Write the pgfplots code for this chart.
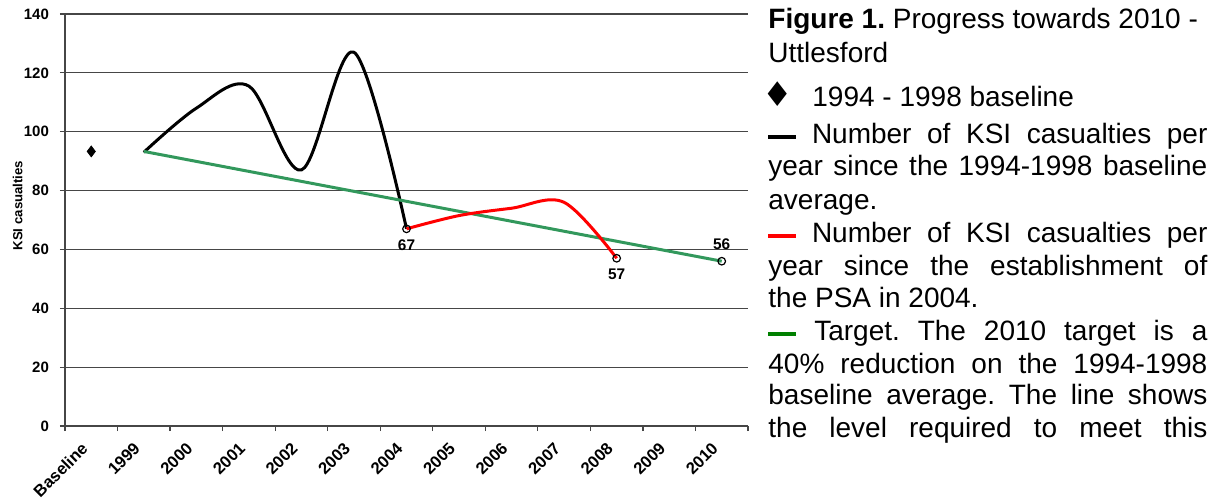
\documentclass[border=0pt]{standalone}
\usepackage{pgfplots}
\pgfplotsset{compat=1.18}
\usepackage{fontspec}
\setmainfont{Liberation Sans}
\newfontfamily\symfont{DejaVu Sans}
\definecolor{tgreen}{RGB}{50,152,92}
\definecolor{gridc}{RGB}{70,70,70}
\frenchspacing
\begin{document}
\begin{tikzpicture}
\path[use as bounding box] (0,0) rectangle (610pt,249.5pt);
\begin{axis}[
  at={(32.5pt,36.5pt)}, anchor=south west,
  scale only axis, width=341.5pt, height=206pt,
  xmin=-0.5, xmax=12.5, ymin=0, ymax=140,
  axis x line*=bottom, axis y line*=left,
  axis line style={-, gridc, line width=0.8pt},
  xtick={0,...,12},
  xticklabels={Baseline,1999,2000,2001,2002,2003,2004,2005,2006,2007,2008,2009,2010},
  major x tick style={draw=none},
  minor xtick={-0.5,0.5,...,12.5},
  minor x tick style={gridc, line width=0.6pt},
  minor tick length=2.5pt,
  ytick={0,20,...,140},
  ymajorgrids, major grid style={gridc, line width=0.6pt},
  major tick length=2.5pt,
  tick align=outside,
  y tick style={gridc, line width=0.6pt},
  /pgf/number format/assume math mode=true,
  ticklabel style={font=\fontsize{7.5}{9}\selectfont\bfseries},
  xticklabel style={font=\fontsize{8.3}{9}\selectfont\bfseries, xshift=-5.5pt, yshift=-5pt, rotate=45, anchor=north east, inner sep=0pt},
  yticklabel style={xshift=-2pt},
  ylabel={KSI casualties},
  ylabel style={font=\fontsize{6.6}{8}\selectfont\bfseries, at={(axis description cs:-0.052,0.535)}},
  clip=false,
]
% baseline
\addplot[only marks, mark=diamond*, mark size=2.7pt, mark options={fill=black, draw=black}] coordinates {(0,93.3)};
% black series
\addplot[black, line width=1.5pt, smooth, tension=0.55, mark=none] coordinates {
(1,93) (2,108) (3,115.5) (4,87) (5,127) (6,67)};
% target
\addplot[tgreen, line width=1.5pt, mark=o, mark indices={2}, mark size=1.9pt, mark options={draw=black, line width=0.6pt}] coordinates {
(1,93.3) (12,56)};
% red series
\addplot[red, line width=1.5pt, smooth, tension=0.55, mark=o, mark indices={1,5}, mark size=1.9pt, mark options={draw=black, line width=0.6pt}] coordinates {
(6,67) (7,71.5) (8,74) (9,76) (10,57)};
% labels
\addplot[draw=none, mark=none, nodes near coords, point meta=explicit symbolic,
  every node near coord/.append style={anchor=north, yshift=-2pt, font=\fontsize{7.7}{9}\selectfont\bfseries}]
  coordinates {(6,67) [67] (10,57) [57]};
\addplot[draw=none, mark=none, nodes near coords, point meta=explicit symbolic,
  every node near coord/.append style={anchor=south, yshift=2pt, font=\fontsize{7.7}{9}\selectfont\bfseries}]
  coordinates {(12,56) [56]};
\end{axis}
\begin{scope}[every node/.style={anchor=base west, inner sep=0pt, font=\fontsize{14}{16}\selectfont}]
\node at (384pt,235pt) {\textbf{Figure 1.} Progress towards 2010 -};
\node at (384pt,218pt) {Uttlesford};
\node at (381pt,196pt) {{\symfont\fontsize{17}{17}\selectfont ♦}};
\node at (406pt,196pt) {1994 - 1998 baseline};
\node at (384pt,178pt) {\makebox[219.5pt][s]{\textcolor{black}{\rule[2.2pt]{14pt}{2pt}} Number of KSI casualties per}};
\node at (384pt,161.5pt) {\makebox[219.5pt][s]{year since the 1994-1998 baseline}};
\node at (384pt,145pt) {average.};
\node at (384pt,128.5pt) {\makebox[219.5pt][s]{\textcolor{red}{\rule[2.2pt]{14pt}{2pt}} Number of KSI casualties per}};
\node at (384pt,112pt) {\makebox[219.5pt][s]{year since the establishment of}};
\node at (384pt,96pt) {the PSA in 2004.};
\node at (384pt,79.5pt) {\makebox[219.5pt][s]{\textcolor{green!50!black}{\rule[2.2pt]{14pt}{2pt}} Target. The 2010 target is a}};
\node at (384pt,63pt) {\makebox[219.5pt][s]{40\% reduction on the 1994-1998}};
\node at (384pt,47.5pt) {\makebox[219.5pt][s]{baseline average. The line shows}};
\node at (384pt,31pt) {\makebox[219.5pt][s]{the level required to meet this}};
\end{scope}
\end{tikzpicture}
\end{document}
